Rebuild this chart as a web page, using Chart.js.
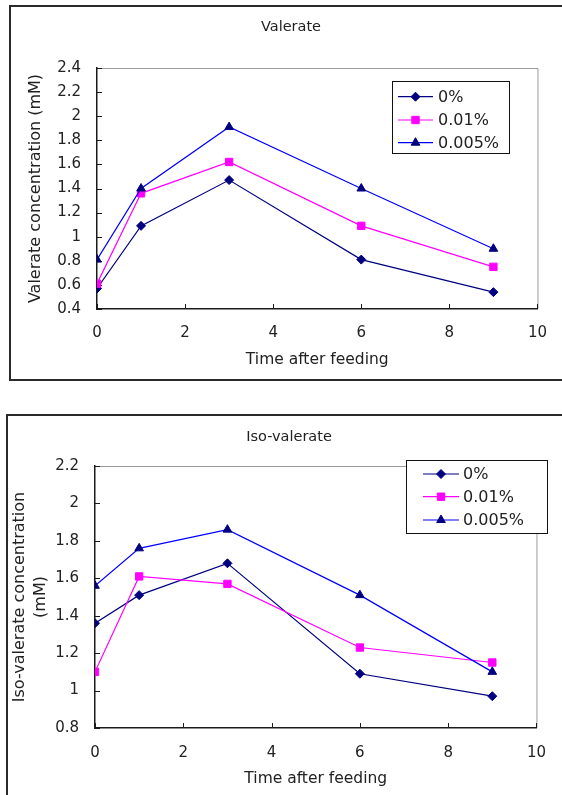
<!DOCTYPE html>
<html>
<head>
<meta charset="utf-8">
<script src="https://cdn.jsdelivr.net/npm/chart.js@4.4.1/dist/chart.umd.min.js"></script>
<style>
  html, body { margin: 0; padding: 0; background: #fff; overflow: hidden; }
  body { width: 562px; height: 795px; position: relative; }
  .frame { position: absolute; border: 2px solid #2a2a2a; }
  .panel { position: absolute; left: 0; width: 562px; }
  canvas { display: block; }
</style>
</head>
<body>
<div class="frame" style="left:9px; top:5px; width:600px; height:372px;"></div>
<div class="frame" style="left:6px; top:414px; width:600px; height:420px;"></div>
<div class="panel" style="top:0; height:400px;"><canvas id="valerate" width="562" height="400"></canvas></div>
<div class="panel" style="top:400px; height:395px;"><canvas id="isovalerate" width="562" height="395"></canvas></div>

<script>
// sampling times (h after feeding)
const timeHours = [0, 1, 3, 6, 9];
const seriesNames = ['0%', '0.01%', '0.005%'];

// valerate, mM
const valerate0 = [0.57, 1.09, 1.47, 0.81, 0.54];
const valerate001 = [0.61, 1.36, 1.62, 1.09, 0.75];
const valerate0005 = [0.81, 1.40, 1.91, 1.40, 0.90];

// iso-valerate, mM
const isoValerate0 = [1.36, 1.51, 1.68, 1.09, 0.97];
const isoValerate001 = [1.10, 1.61, 1.57, 1.23, 1.15];
const isoValerate0005 = [1.56, 1.76, 1.86, 1.51, 1.10];

const FONT = 'DejaVu Sans, Verdana, sans-serif';
const TEXT = '#222';

const styles = [
  { line: '#000080', fill: '#000080', shape: 'rectRot', r: 4.5 },
  { line: '#ff00ff', fill: '#ff00ff', shape: 'rect', r: 5.2 },
  { line: '#0000ff', fill: '#000080', shape: 'triangle', r: 5 }
];

function makeDatasets(lists) {
  return lists.map((vals, i) => ({
    label: seriesNames[i],
    data: timeHours.map((t, k) => ({ x: t, y: vals[k] })),
    borderColor: styles[i].line,
    backgroundColor: styles[i].fill,
    pointBackgroundColor: styles[i].fill,
    pointBorderColor: styles[i].fill,
    pointStyle: styles[i].shape,
    pointRadius: styles[i].r,
    pointBorderWidth: 1,
    borderWidth: 1.2,
    tension: 0,
    order: 3 - i
  }));
}

// plot frame, inward ticks, panel title and the boxed legend
const panelDecor = {
  id: 'panelDecor',
  beforeDatasetsDraw(chart) {
    const { ctx, chartArea: a } = chart;
    ctx.save();
    ctx.strokeStyle = '#9a9a9a';
    ctx.lineWidth = 1;
    ctx.beginPath();
    ctx.moveTo(a.left, a.top + 0.5);
    ctx.lineTo(a.right + 0.5, a.top + 0.5);
    ctx.lineTo(a.right + 0.5, a.bottom);
    ctx.stroke();

    ctx.strokeStyle = '#1a1a1a';
    ctx.beginPath();
    const xs = chart.scales.x, ys = chart.scales.y;
    xs.ticks.forEach(t => {
      const px = Math.round(xs.getPixelForValue(t.value)) + 0.5;
      ctx.moveTo(px, a.bottom);
      ctx.lineTo(px, a.bottom - 5);
    });
    ys.ticks.forEach(t => {
      const py = Math.round(ys.getPixelForValue(t.value)) + 0.5;
      ctx.moveTo(a.left, py);
      ctx.lineTo(a.left + 5, py);
    });
    ctx.stroke();
    ctx.restore();
  },
  afterDraw(chart, args, opts) {
    const { ctx } = chart;
    ctx.save();
    ctx.fillStyle = TEXT;
    ctx.font = '14.5px ' + FONT;
    ctx.textAlign = 'center';
    ctx.textBaseline = 'middle';
    ctx.fillText(opts.title, opts.titleX, opts.titleY);

    const lg = opts.legend;
    ctx.fillStyle = '#fff';
    ctx.fillRect(lg.x, lg.y, lg.w, lg.h);
    ctx.strokeStyle = '#111';
    ctx.lineWidth = 1;
    ctx.strokeRect(lg.x + 0.5, lg.y + 0.5, lg.w, lg.h);

    chart.data.datasets.forEach((ds, i) => {
      const y = lg.rows[i];
      ctx.strokeStyle = ds.borderColor;
      ctx.lineWidth = 1.2;
      ctx.beginPath();
      ctx.moveTo(lg.line[0], y);
      ctx.lineTo(lg.line[1], y);
      ctx.stroke();
      ctx.fillStyle = ds.pointBackgroundColor;
      ctx.strokeStyle = ds.pointBorderColor;
      ctx.lineWidth = 1;
      Chart.helpers.drawPoint(ctx, {
        pointStyle: ds.pointStyle, radius: ds.pointRadius, rotation: 0, borderWidth: 1
      }, lg.marker, y);
      ctx.fillStyle = TEXT;
      ctx.font = '16px ' + FONT;
      ctx.textAlign = 'left';
      ctx.fillText(ds.label, lg.text, y + 1);
    });
    ctx.restore();
  }
};

function makePanel(id, cfg) {
  return new Chart(document.getElementById(id), {
    type: 'line',
    data: { datasets: makeDatasets(cfg.series) },
    plugins: [panelDecor],
    options: {
      responsive: false,
      animation: false,
      layout: { padding: cfg.padding },
      plugins: {
        legend: { display: false },
        tooltip: { enabled: false },
        panelDecor: { title: cfg.title, titleX: cfg.titleX, titleY: cfg.titleY, legend: cfg.legend }
      },
      scales: {
        x: {
          type: 'linear', min: 0, max: 10,
          ticks: { stepSize: 2, padding: cfg.xTickPad, color: TEXT, font: { family: FONT, size: 15 }, maxRotation: 0 },
          grid: { drawOnChartArea: false, drawTicks: false },
          border: { color: '#1a1a1a', width: 1.5 },
          title: {
            display: true, text: 'Time after feeding', color: TEXT,
            font: { family: FONT, size: 15.5 }, padding: { top: 0, bottom: cfg.xTitlePad }
          },
          afterFit: s => { s.height = cfg.xHeight; }
        },
        y: {
          type: 'linear', min: cfg.yMin, max: cfg.yMax,
          ticks: {
            stepSize: 0.2, padding: 16, color: TEXT, font: { family: FONT, size: 15 },
            callback: v => String(+v.toFixed(1))
          },
          grid: { drawOnChartArea: false, drawTicks: false },
          border: { color: '#1a1a1a', width: 1.5 },
          title: {
            display: true, text: cfg.yTitle, color: TEXT,
            font: { family: FONT, size: 16, lineHeight: 1.3125 }, padding: { top: cfg.yTitlePad, bottom: 0 }
          },
          afterFit: s => { s.width = cfg.yWidth; }
        }
      }
    }
  });
}

makePanel('valerate', {
  title: 'Valerate', titleX: 291, titleY: 27,
  series: [valerate0, valerate001, valerate0005],
  padding: { top: 68, right: 19, left: 0, bottom: 0 },
  yMin: 0.4, yMax: 2.4, yWidth: 97, yTitle: 'Valerate concentration (mM)', yTitlePad: 25.5,
  xHeight: 91, xTickPad: 15, xTitlePad: 30.7,
  legend: { x: 392, y: 81, w: 117, h: 72, rows: [96.7, 120, 142.7], line: [398, 433], marker: 415.5, text: 438 }
});

makePanel('isovalerate', {
  title: 'Iso-valerate', titleX: 289, titleY: 37,
  series: [isoValerate0, isoValerate001, isoValerate0005],
  padding: { top: 66, right: 17, left: 0, bottom: 0 },
  yMin: 0.8, yMax: 2.2, yWidth: 95, yTitle: ['Iso-valerate concentration', '(mM)'], yTitlePad: 9.5,
  xHeight: 67, xTickPad: 16, xTitlePad: 6.7,
  legend: { x: 406, y: 60, w: 141, h: 73, rows: [74, 96.7, 120], line: [423, 459], marker: 441, text: 463 }
});
</script>
</body>
</html>
